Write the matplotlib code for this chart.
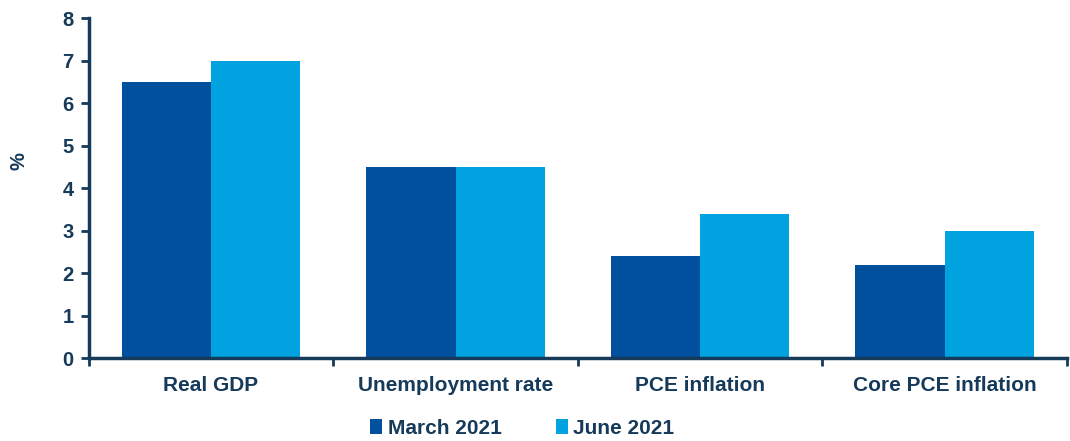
import matplotlib
matplotlib.use("Agg")
import matplotlib.pyplot as plt
import numpy as np

categories = ['Real GDP', 'Unemployment rate', 'PCE inflation', 'Core PCE inflation']
march_2021 = [6.5, 4.5, 2.4, 2.2]
june_2021 = [7.0, 4.5, 3.4, 3.0]

dark = '#00509e'
light = '#00a3e0'
navy = '#163a5a'

plt.rcParams['font.family'] = ['Liberation Sans', 'DejaVu Sans']
plt.rcParams['font.weight'] = 'bold'

fig = plt.figure(figsize=(10.7, 4.41), dpi=100)
ax = fig.add_axes([0.083, 0.188, 0.914, 0.771])

x = np.arange(len(categories))
w = 0.365
ax.bar(x - w / 2, march_2021, w, color=dark, label='March 2021')
ax.bar(x + w / 2, june_2021, w, color=light, label='June 2021')

ax.set_xlim(-0.5, len(categories) - 0.5)
ax.set_ylim(0, 8)
ax.set_yticks(range(0, 9))
ax.set_xticks(x)
ax.set_xticklabels(categories)
ax.set_xticks(np.arange(-0.5, len(categories)), minor=True)
ax.tick_params(axis='x', which='major', length=0, pad=13, labelsize=15, labelcolor=navy)
ax.tick_params(axis='x', which='minor', length=6, width=2, color=navy, direction='out')
ax.tick_params(axis='y', length=6, width=2, color=navy, labelsize=14.5, labelcolor=navy, pad=5)
for lab in ax.get_xticklabels() + ax.get_yticklabels():
    lab.set_fontweight('bold')

for s in ['top', 'right']:
    ax.spines[s].set_visible(False)
for s in ['left', 'bottom']:
    ax.spines[s].set_color(navy)
    ax.spines[s].set_linewidth(2.5)

ax.set_ylabel('%', fontsize=14.5, fontweight='bold', color=navy, labelpad=26)
ax.yaxis.set_label_coords(-0.062, 0.58)

leg = fig.legend(loc='lower center', bbox_to_anchor=(0.488, -0.035), ncol=2, frameon=False,
                 prop={'size': 15, 'weight': 'bold'}, handlelength=0.6, handleheight=0.7,
                 handletextpad=0.25, columnspacing=2.6)
for t in leg.get_texts():
    t.set_color(navy)

fig.savefig('out.png', dpi=100)
